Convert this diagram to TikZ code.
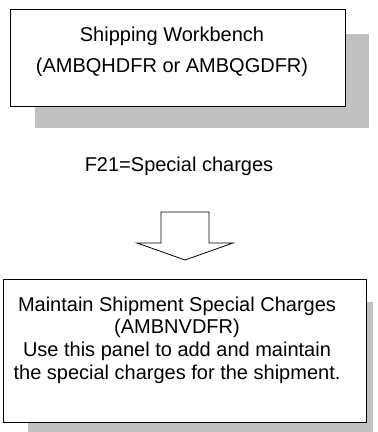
\documentclass[tikz,border=0pt]{standalone}
\usepackage{fontspec}
\setmainfont{Liberation Sans}
\usepackage{tikz}
\usetikzlibrary{positioning}
\definecolor{shadowgray}{RGB}{192,192,192}

\begin{document}
\begin{tikzpicture}[
  x=1bp, y=-1bp,
  every node/.style={font=\fontsize{20bp}{22.6bp}\selectfont},
  panel/.style={draw, line width=1bp, fill=white, inner sep=0pt},
  shadowbox/.style={fill=shadowgray, inner sep=0pt},
  txt/.style={align=center, inner sep=0pt},
  blockarrow/.style={draw, line width=0.8bp, fill=white, line join=miter}
]
\useasboundingbox (0,0) rectangle (378,432);
% Shipping workbench
\node[shadowbox, minimum width=334bp, minimum height=94bp] (wbshadow) at (202,81) {};
\node[panel, minimum width=334bp, minimum height=97bp] (wb) at (178,57.5) {};
\node[txt, font=\fontsize{20bp}{31.5bp}\selectfont] (wbtext) at (172,52) {Shipping Workbench\\(AMBQHDFR or AMBQGDFR)};
% Function key
\node[txt] (fkey) at (179,166) {F21=Special charges};
% Block arrow
\coordinate (tip) at (185,260);
\draw[blockarrow] (tip) -- ++(-48,-17) -- ++(24,0) -- ++(0,-31) -- ++(48,0)
  -- ++(0,31) -- ++(24,0) -- cycle;
% Special charges panel
\node[shadowbox, minimum width=345bp, minimum height=130bp] (scshadow) at (200.5,367) {};
\node[panel, minimum width=362bp, minimum height=143bp] (sc) at (185,350.5) {};
\node[txt] (sctext) at (177,340) {Maintain Shipment Special Charges\\(AMBNVDFR)\\Use this panel to add and maintain\\the special charges for the shipment.};
\end{tikzpicture}
\end{document}
